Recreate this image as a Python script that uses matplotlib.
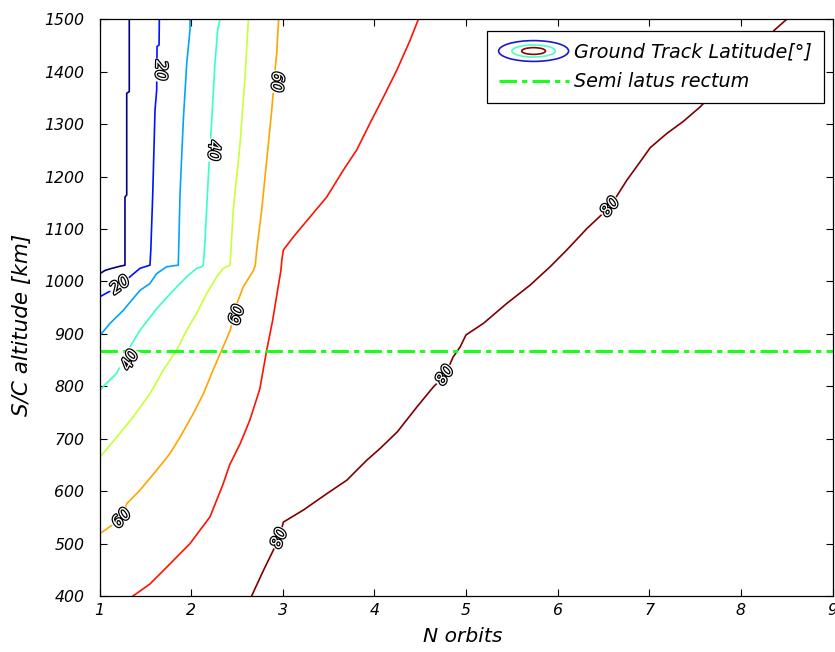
import numpy as np
import matplotlib
matplotlib.use("Agg")
import matplotlib.pyplot as plt
import matplotlib.patheffects as pe
from matplotlib.legend_handler import HandlerBase
from matplotlib.patches import Ellipse

# contour levels of ground track latitude [deg]
levels = [10, 20, 30, 40, 50, 60, 70, 80]

# each contour line: N orbits vs S/C altitude [km]
lvl10_n = [1.005, 1.06, 1.115, 1.224, 1.278, 1.278, 1.297, 1.297, 1.325, 1.325]
lvl10_alt = [1015, 1021, 1024, 1029, 1031, 1161, 1165, 1359, 1362, 1500]

lvl20_n = [1.005, 1.10, 1.224, 1.333, 1.442, 1.551, 1.56, 1.58, 1.606, 1.624, 1.628, 1.65, 1.653]
lvl20_alt = [971, 980, 990, 1009, 1025, 1031, 1060, 1161, 1327, 1365, 1448, 1451, 1500]

lvl30_n = [1.005, 1.115, 1.26, 1.442, 1.55, 1.624, 1.733, 1.86, 1.879, 1.915, 1.952, 1.988, 1.988]
lvl30_alt = [897, 920, 945, 983, 996, 1015, 1028, 1031, 1168, 1308, 1416, 1480, 1500]

lvl40_n = [1.005, 1.188, 1.333, 1.442, 1.624, 1.806, 1.952, 2.06, 2.115, 2.133, 2.15, 2.188,
           2.225, 2.26, 2.29, 2.315]
lvl40_alt = [793, 825, 875, 907, 948, 983, 1009, 1025, 1028, 1031, 1073, 1200,
             1308, 1416, 1480, 1500]

lvl50_n = [1.005, 1.188, 1.369, 1.551, 1.697, 1.843, 1.952, 2.06, 2.17, 2.28, 2.35, 2.425,
           2.46, 2.534, 2.588, 2.625]
lvl50_alt = [665, 703, 742, 786, 831, 869, 907, 939, 977, 1009, 1025, 1031,
             1136, 1263, 1390, 1500]

lvl60_n = [1.005, 1.242, 1.297, 1.442, 1.624, 1.77, 1.879, 2.024, 2.134, 2.24, 2.334, 2.427,
           2.5, 2.57, 2.68, 2.70, 2.716, 2.77, 2.825, 2.88, 2.916, 2.934, 2.955]
lvl60_alt = [519, 548, 576, 602, 640, 672, 703, 748, 786, 831, 869, 907,
             958, 990, 1021, 1031, 1060, 1136, 1231, 1327, 1403, 1435, 1500]

lvl70_n = [1.366, 1.551, 1.734, 1.988, 2.206, 2.35, 2.42, 2.534, 2.64, 2.75, 2.825, 2.89,
           2.95, 2.98, 2.99, 3.007, 3.116, 3.298, 3.48, 3.66, 3.808, 3.953, 4.1, 4.245,
           4.39, 4.48]
lvl70_alt = [400, 423, 455, 500, 551, 614, 650, 690, 735, 795, 869, 926,
             990, 1021, 1041, 1060, 1085, 1123, 1161, 1212, 1251, 1302, 1352, 1403,
             1460, 1500]

lvl80_n = [2.66, 2.79, 2.96, 3.007, 3.225, 3.48, 3.70, 3.917, 4.06, 4.25, 4.466, 4.645,
           4.77, 4.86, 4.936, 5.0, 5.19, 5.445, 5.70, 5.918, 6.1, 6.32, 6.57, 6.755,
           6.90, 7.01, 7.19, 7.37, 7.556, 7.95, 8.37, 8.50]
lvl80_alt = [400, 449, 510, 541, 564, 595, 621, 659, 681, 713, 761, 799,
             821, 856, 875, 898, 920, 958, 993, 1028, 1060, 1101, 1142, 1193,
             1228, 1255, 1282, 1305, 1333, 1405, 1480, 1500]

lines_n = [lvl10_n, lvl20_n, lvl30_n, lvl40_n, lvl50_n, lvl60_n, lvl70_n, lvl80_n]
lines_alt = [lvl10_alt, lvl20_alt, lvl30_alt, lvl40_alt, lvl50_alt, lvl60_alt, lvl70_alt, lvl80_alt]

# inline labels
label_level = [20, 20, 40, 40, 60, 60, 60, 80, 80, 80]
label_n = [1.665, 1.224, 2.243, 1.333, 2.934, 2.5, 1.242, 2.963, 4.77, 6.573]
label_alt = [1403, 993, 1250, 850, 1381, 936, 548, 510, 821, 1142]

semi_latus_alt = 867

plt.rcParams["font.family"] = "DejaVu Sans"
plt.rcParams["font.style"] = "italic"


def matlab_jet(t):
    t = np.asarray(t)
    r = np.clip(1.5 - np.abs(4 * t - 3), 0, 1)
    g = np.clip(1.5 - np.abs(4 * t - 2), 0, 1)
    b = np.clip(1.5 - np.abs(4 * t - 1), 0, 1)
    return np.column_stack([r, g, b])


fig = plt.figure(figsize=(8.35, 6.52), dpi=100)
ax = fig.add_axes([99.5 / 835, 1 - 596 / 652, 733 / 835, 576.7 / 652])
ax.set_xlim(1, 9)
ax.set_ylim(400, 1500)

colors = matlab_jet(np.linspace(0, 1, len(levels)))
for xs, ys, c in zip(lines_n, lines_alt, colors):
    ax.plot(xs, ys, color=c, lw=1.2, zorder=2)

ax.axhline(semi_latus_alt, color=(0.1, 1.0, 0.1), lw=2.2,
           dashes=(5.7, 1.7, 1.7, 1.7), zorder=2.5)


def label_angle(xs, ys, x0, y0):
    pts = ax.transData.transform(np.column_stack([xs, ys]))
    p0 = ax.transData.transform((x0, y0))
    i = int(np.argmin(np.hypot(*(pts - p0).T)))
    i0, i1 = max(i - 1, 0), min(i + 1, len(xs) - 1)
    dx, dy = pts[i1] - pts[i0]
    ang = np.degrees(np.arctan2(dy, dx))
    if ang > 80:
        ang -= 180
    return ang


for lv, x0, y0 in zip(label_level, label_n, label_alt):
    k = levels.index(lv)
    rot = label_angle(lines_n[k], lines_alt[k], x0, y0)
    ax.text(x0, y0, str(lv), rotation=rot, rotation_mode="anchor",
            ha="center", va="center", fontsize=11.5, color="white", zorder=3,
            path_effects=[pe.withStroke(linewidth=1.8, foreground="black")],
            bbox=dict(boxstyle="square,pad=0.08", fc="white", ec="none"))

ax.set_xticks(range(1, 10))
ax.set_yticks(range(400, 1501, 100))
ax.tick_params(direction="in", length=5, width=0.8, top=True, right=True,
               labelsize=11.3, colors="black")
ax.tick_params(axis="y", pad=11)
ax.tick_params(axis="x", pad=5)
for s in ax.spines.values():
    s.set_linewidth(0.9)

ax.set_xlabel("N orbits", fontsize=14.6)
ax.set_ylabel("S/C altitude [km]", fontsize=15.5)
ax.xaxis.set_label_coords(0.495, -0.053)
ax.yaxis.set_label_coords(-0.092, 0.47)


class ContourKey:
    pass


class ContourHandler(HandlerBase):
    def create_artists(self, legend, orig_handle, xdescent, ydescent,
                       width, height, fontsize, trans):
        cx = width / 2 - xdescent
        cy = height / 2 - ydescent
        rings = [(1.0, 1.55, (0.1, 0.1, 0.8)),
                 (0.62, 0.9, (0.3, 1.0, 0.75)),
                 (0.34, 0.5, (0.55, 0.0, 0.0))]
        out = []
        for fw, fh, c in rings:
            out.append(Ellipse((cx, cy), width * fw, height * fh, fill=False,
                               edgecolor=c, lw=1.2, transform=trans))
        return out


green = plt.Line2D([], [], color=(0.1, 1.0, 0.1), lw=2.2, dashes=(5.7, 1.7, 1.7, 1.7))
leg = ax.legend([ContourKey(), green], ["Ground Track Latitude[°]", "Semi latus rectum"],
                handler_map={ContourKey: ContourHandler()},
                loc="upper right", bbox_to_anchor=(0.988, 0.980), borderaxespad=0,
                fontsize=13.8, handlelength=3.65, handletextpad=0.28, borderpad=0.62,
                labelspacing=0.56, fancybox=False, framealpha=1, edgecolor="black")
leg.get_frame().set_linewidth(0.9)

fig.savefig("out.png", dpi=100)
